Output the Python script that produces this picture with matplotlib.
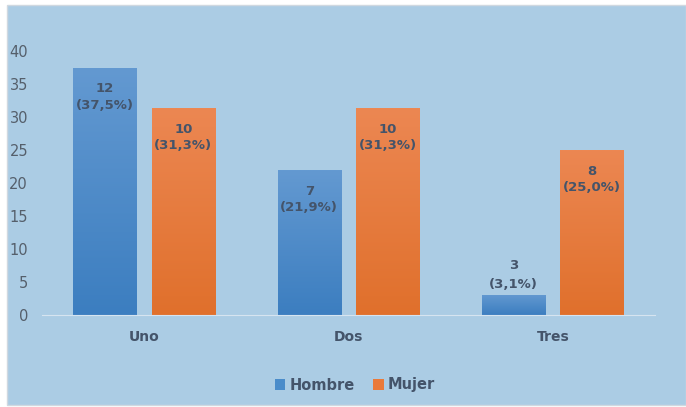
import numpy as np
import matplotlib.pyplot as plt
from matplotlib.patches import Rectangle
from matplotlib.colors import LinearSegmentedColormap

categorias = ['Uno', 'Dos', 'Tres']
hombre_pct = [37.5, 21.9, 3.1]
mujer_pct = [31.3, 31.3, 25.0]
hombre_n = [12, 7, 3]
mujer_n = [10, 10, 8]
yticks = [0, 5, 10, 15, 20, 25, 30, 35, 40]

fondo = '#abcce4'
texto = '#44546a'

fig = plt.figure(figsize=(6.86, 4.07), dpi=100)
fig.patch.set_facecolor('white')
# marco del gráfico
fig.patches.append(Rectangle((7 / 686, 2 / 407), 679 / 686, 400 / 407,
                             transform=fig.transFigure, facecolor=fondo,
                             edgecolor='#d0d8e0', linewidth=1, zorder=-10))

ax = fig.add_axes([42 / 686, 1 - 315 / 407, 613 / 686, 264 / 407])
ax.set_facecolor('none')

x = np.arange(len(categorias))
w = 0.31
sep = 0.037


def barra_degradado(ax, xc, h, c_top, c_bot):
    grad = np.linspace(0, 1, 100).reshape(-1, 1)
    cmap = LinearSegmentedColormap.from_list('g', [c_bot, c_top])
    im = ax.imshow(grad, extent=[xc - w / 2, xc + w / 2, 0, h], origin='lower',
                   cmap=cmap, aspect='auto', zorder=2)
    rect = Rectangle((xc - w / 2, 0), w, h, facecolor='none', edgecolor='none')
    ax.add_patch(rect)
    im.set_clip_path(rect)


for i in range(len(categorias)):
    xh = x[i] - sep - w / 2
    xm = x[i] + sep + w / 2
    barra_degradado(ax, xh, hombre_pct[i], '#6399d1', '#3c7ec0')
    barra_degradado(ax, xm, mujer_pct[i], '#ec8752', '#e0702c')

    for xc, n, p in [(xh, hombre_n[i], hombre_pct[i]), (xm, mujer_n[i], mujer_pct[i])]:
        lbl = '%d\n(%s%%)' % (n, ('%.1f' % p).replace('.', ','))
        if p > 10:
            ax.text(xc, p - 2.2, lbl, ha='center', va='top', fontsize=9.5,
                    fontweight='bold', color=texto, linespacing=1.35, zorder=3)
        else:
            ax.text(xc, p + 0.6, lbl, ha='center', va='bottom', fontsize=9.5,
                    fontweight='bold', color=texto, linespacing=1.6, zorder=3)

ax.set_xlim(-0.5, 2.5)
ax.set_ylim(0, 40)
ax.set_yticks(yticks)
ax.set_xticks(x)
ax.set_xticklabels(categorias, fontweight='bold', fontsize=10, color=texto)
ax.tick_params(axis='y', length=0, labelsize=10.5, labelcolor='#555f6b', pad=10)
ax.tick_params(axis='x', length=0, pad=11)
for s in ['top', 'right', 'left']:
    ax.spines[s].set_visible(False)
ax.spines['bottom'].set_color('#d6e4f0')
ax.spines['bottom'].set_zorder(4)

h1 = Rectangle((0, 0), 1, 1, facecolor='#4a8cca')
h2 = Rectangle((0, 0), 1, 1, facecolor='#ea7a3a')
leg = fig.legend([h1, h2], ['Hombre', 'Mujer'], loc='center',
                 bbox_to_anchor=(355 / 686, 1 - 385 / 407), ncol=2, frameon=False,
                 handlelength=0.7, handleheight=0.7, handletextpad=0.3,
                 columnspacing=1.3, prop={'weight': 'bold', 'size': 10.5})
for t in leg.get_texts():
    t.set_color(texto)

fig.savefig('out.png', dpi=100, facecolor=fig.get_facecolor())
